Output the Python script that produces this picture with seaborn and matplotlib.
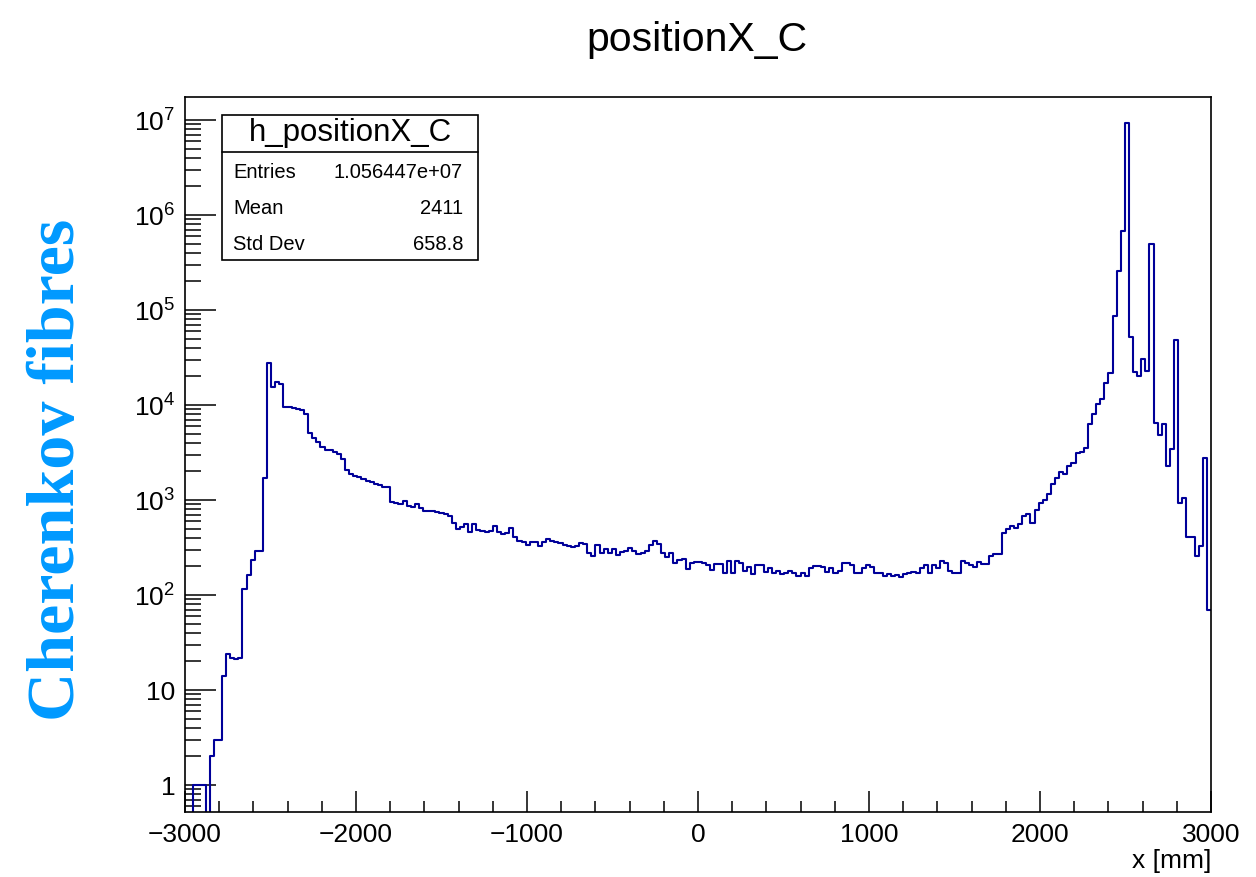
import numpy as np
import pandas as pd
import matplotlib
matplotlib.use("Agg")
import matplotlib.pyplot as plt
from matplotlib.patches import Rectangle
from matplotlib.lines import Line2D
from matplotlib.ticker import MultipleLocator, LogLocator, FuncFormatter, NullFormatter
import seaborn as sns

# Histogram binning (mm)
x_min, x_max, n_bins = -3000.0, 3000.0, 250

# Bin contents of h_positionX_C, left to right
counts = [
    0, 0, 1, 1, 1, 0, 2, 3, 3, 14,
    24, 22, 21, 22, 115, 163, 235, 290, 290, 1690,
    27900, 15400, 17400, 16800, 9600, 9600, 9300, 9080, 8860, 8040,
    5110, 4460, 4110, 3640, 3360, 3360, 3220, 3050, 2680, 2070,
    1870, 1800, 1730, 1660, 1585, 1547, 1485, 1429, 1361, 1380,
    960, 937, 908, 984, 871, 850, 908, 818, 766, 766,
    771, 753, 724, 707, 679, 569, 492, 516, 559, 464,
    555, 483, 475, 464, 475, 532, 464, 439, 453, 504,
    411, 373, 359, 336, 359, 359, 328, 364, 388, 373,
    364, 350, 336, 330, 322, 328, 350, 342, 279, 259,
    334, 279, 303, 279, 303, 264, 284, 293, 310, 293,
    268, 275, 293, 336, 370, 342, 279, 249, 279, 219,
    234, 238, 186, 216, 221, 221, 219, 207, 183, 212,
    212, 172, 230, 169, 230, 216, 180, 196, 165, 207,
    207, 176, 191, 172, 180, 165, 169, 180, 169, 158,
    172, 158, 191, 203, 203, 196, 176, 191, 169, 180,
    216, 216, 207, 169, 169, 191, 207, 196, 172, 172,
    158, 165, 158, 162, 156, 166, 169, 176, 169, 191,
    207, 169, 207, 191, 228, 219, 180, 172, 169, 228,
    216, 207, 196, 221, 212, 212, 257, 272, 272, 446,
    492, 532, 511, 555, 679, 707, 577, 785, 937, 1000,
    1148, 1463, 1718, 1986, 1879, 2296, 2433, 3104, 3222, 3499,
    6310, 8040, 10250, 11650, 17170, 21570, 86500, 259000, 684000, 9230000,
    51600, 22400, 20200, 30700, 22960, 495000, 6420, 4870, 6310, 2280,
    3420, 48300, 923, 1042, 411, 411, 259, 330, 2787, 70,
]

# Statistics box entries
stats_title = "h_positionX_C"
stats_names = ["Entries", "Mean", "Std Dev"]
stats_values = ["1.056447e+07", "2411", "658.8"]

edges = np.linspace(x_min, x_max, n_bins + 1)
centers = 0.5 * (edges[:-1] + edges[1:])
df = pd.DataFrame({"x": centers, "n": counts})

sns.set_style("ticks")
plt.rcParams["font.family"] = ["Liberation Sans", "DejaVu Sans"]
plt.rcParams["mathtext.fontset"] = "custom"
plt.rcParams["mathtext.rm"] = "Liberation Sans"
plt.rcParams["mathtext.it"] = "Liberation Sans:italic"
plt.rcParams["mathtext.bf"] = "Liberation Sans:bold"
plt.rcParams["text.color"] = "black"
plt.rcParams["axes.labelcolor"] = "black"
plt.rcParams["xtick.color"] = "black"
plt.rcParams["ytick.color"] = "black"

W, H = 1256, 877
fig = plt.figure(figsize=(W / 100, H / 100), dpi=100)
fig.patch.set_facecolor("white")


def fx(px):
    return px / W


def fy(py):
    return 1 - py / H


ax = fig.add_axes([fx(185), fy(812), (1211 - 185) / W, (812 - 97) / H])
ax.set_yscale("log")
sns.histplot(data=df, x="x", weights="n", bins=n_bins, binrange=(x_min, x_max),
             element="step", fill=False, color="#000099", linewidth=1.5, ax=ax)

ax.set_xlim(x_min, x_max)
ax.set_ylim(0.52, 1.75e7)
ax.set_xlabel("")
ax.set_ylabel("")
ax.xaxis.label.set_visible(False)
ax.yaxis.label.set_visible(False)

for side in ["left", "right", "top", "bottom"]:
    ax.spines[side].set_visible(True)
    ax.spines[side].set_color("black")
    ax.spines[side].set_linewidth(1.2)

ax.xaxis.set_major_locator(MultipleLocator(1000))
ax.xaxis.set_minor_locator(MultipleLocator(200))
ax.yaxis.set_major_locator(LogLocator(base=10, numticks=20))
ax.yaxis.set_minor_locator(LogLocator(base=10, subs=np.arange(2, 10), numticks=100))
ax.yaxis.set_minor_formatter(NullFormatter())


def decade_label(v, pos):
    e = int(round(np.log10(v)))
    if e == 0:
        return "1"
    if e == 1:
        return "10"
    return r"$10^{%d}$" % e


ax.yaxis.set_major_formatter(FuncFormatter(decade_label))

ax.tick_params(axis="x", which="major", direction="in", length=15, width=1.1,
               top=False, bottom=True, pad=8, labelsize=19, colors="black")
ax.tick_params(axis="x", which="minor", direction="in", length=7.7, width=1.1,
               top=False, bottom=True)
ax.tick_params(axis="y", which="major", direction="in", length=22.3, width=1.1,
               right=False, left=True, pad=7, labelsize=19, colors="black")
ax.tick_params(axis="y", which="minor", direction="in", length=11.2, width=1.1,
               right=False, left=True)

# Titles and axis labels
fig.text(fx(697), fy(40), "positionX_C", ha="center", va="center", fontsize=29.5,
         color="black")
fig.text(fx(1211), fy(861), "x [mm]", ha="right", va="center", fontsize=19,
         color="black")
fig.text(fx(58), fy(470), "Cherenkov fibres", rotation=90, ha="center", va="center",
         fontsize=49, family="Liberation Serif", weight="bold", color="#0099ff")

# Statistics box
bx0, bx1, by0, by1, bhead = 222, 478, 115, 260, 152
fig.patches.append(Rectangle((fx(bx0), fy(by1)), (bx1 - bx0) / W, (by1 - by0) / H,
                             transform=fig.transFigure, facecolor="white",
                             edgecolor="black", linewidth=1.2, zorder=5))
fig.lines.append(Line2D([fx(bx0), fx(bx1)], [fy(bhead), fy(bhead)],
                        transform=fig.transFigure, color="black", linewidth=1.2, zorder=6))
fig.text(fx((bx0 + bx1) / 2), fy(133), stats_title, ha="center", va="center",
         fontsize=22.5, color="black", zorder=7)
for name, val, ypix in zip(stats_names, stats_values, [172, 209, 245]):
    fig.text(fx(233), fy(ypix), name, ha="left", va="center", fontsize=14.5,
             color="black", zorder=7)
    fig.text(fx(463), fy(ypix), val, ha="right", va="center", fontsize=14.5,
             color="black", zorder=7)

fig.savefig("out.png", dpi=100, facecolor="white")
